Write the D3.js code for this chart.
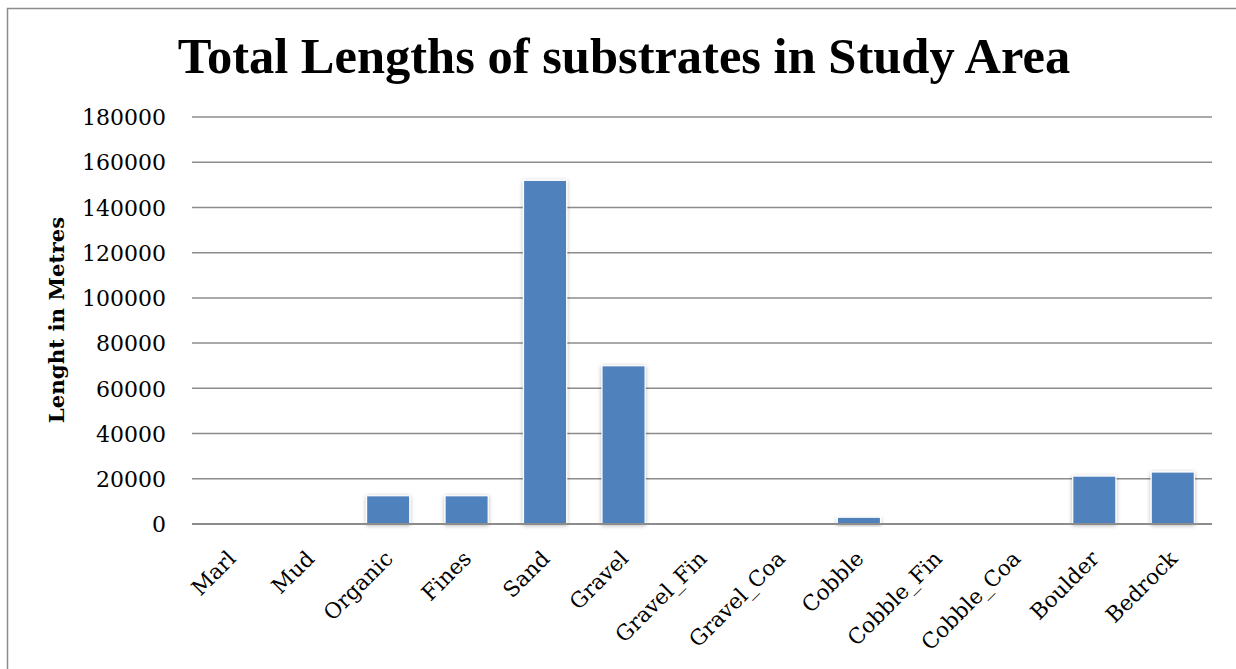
<!DOCTYPE html>
<html>
<head>
<meta charset="utf-8">
<script src="https://cdn.jsdelivr.net/npm/d3@7"></script>
<style>
  html, body { margin: 0; padding: 0; background: #fff; }
  svg { display: block; }
  text { font-family: "DejaVu Serif", "Liberation Serif", serif; fill: #000; }
</style>
</head>
<body>
<svg id="chart" width="1236" height="669"></svg>
<script>
const categories = ["Marl", "Mud", "Organic", "Fines", "Sand", "Gravel", "Gravel_Fin", "Gravel_Coa", "Cobble", "Cobble_Fin", "Cobble_Coa", "Boulder", "Bedrock"];
const values = [0, 0, 12500, 12500, 152000, 70000, 300, 0, 3000, 0, 0, 21200, 23000];
const yTicks = [0, 20000, 40000, 60000, 80000, 100000, 120000, 140000, 160000, 180000];
const titleText = "Total Lengths of substrates in Study Area";
const yTitle = "Lenght in Metres";

const svg = d3.select("#chart");
const W = 1236, H = 669;
const margin = { left: 192, right: 24, top: 117, bottom: 145 };
const plotW = W - margin.left - margin.right;
const labelFont = '"DejaVu Serif", "Liberation Serif", serif';

// outer chart border
svg.append("rect").attr("x", 7.5).attr("y", 8.5).attr("width", 1260).attr("height", 700)
  .attr("fill", "#fff").attr("stroke", "#8c8c8c").attr("stroke-width", 1.5);

const defs = svg.append("defs");
const f = defs.append("filter").attr("id", "shadow").attr("x", "-30%").attr("y", "-30%").attr("width", "160%").attr("height", "160%");
f.append("feGaussianBlur").attr("in", "SourceAlpha").attr("stdDeviation", 2).attr("result", "blur");
f.append("feOffset").attr("in", "blur").attr("dx", 0).attr("dy", 1).attr("result", "off");
f.append("feComponentTransfer").attr("in", "off").attr("result", "sh")
  .append("feFuncA").attr("type", "linear").attr("slope", 0.3);
const m = f.append("feMerge");
m.append("feMergeNode").attr("in", "sh");
m.append("feMergeNode").attr("in", "SourceGraphic");

const x = d3.scaleBand().domain(categories).range([margin.left, margin.left + plotW]).paddingInner(0.45).paddingOuter(0.225);
const y = d3.scaleLinear().domain([0, 180000]).range([524, 117]);

// gridlines
svg.append("g").selectAll("line").data(yTicks.filter(d => d > 0)).join("line")
  .attr("x1", margin.left).attr("x2", margin.left + plotW)
  .attr("y1", d => y(d)).attr("y2", d => y(d))
  .attr("stroke", "#8c8c8c").attr("stroke-width", 1.5);

// y axis labels
const yAxis = d3.axisLeft(y).tickValues(yTicks).tickSize(0).tickPadding(0).tickFormat(d3.format("d"));
const ya = svg.append("g").attr("transform", `translate(${margin.left - 26},0)`).call(yAxis);
ya.select(".domain").remove();
ya.selectAll("text").style("font-family", labelFont).style("font-size", "22px").attr("dy", "0.35em");

// bars
svg.append("g").selectAll("rect").data(categories).join("rect")
  .attr("x", d => x(d))
  .attr("width", x.bandwidth())
  .attr("y", (d, i) => y(values[i]))
  .attr("height", (d, i) => y(0) - y(values[i]))
  .attr("fill", "#4F81BD")
  .attr("stroke", "#ffffff").attr("stroke-width", 1.2)
  .attr("filter", "url(#shadow)");

// baseline
svg.append("line").attr("x1", margin.left).attr("x2", margin.left + plotW)
  .attr("y1", y(0)).attr("y2", y(0)).attr("stroke", "#8c8c8c").attr("stroke-width", 2);

// x labels
const xa = svg.append("g").attr("transform", `translate(0,${y(0)})`)
  .call(d3.axisBottom(x).tickSize(0).tickPadding(0));
xa.select(".domain").remove();
xa.selectAll("text")
  .style("font-family", labelFont).style("font-size", "21.5px")
  .attr("text-anchor", "end")
  .attr("dy", "0")
  .attr("transform", "translate(6,36) rotate(-45)")
  .attr("y", 0).attr("x", 0);

// y title
const yt = svg.append("text").attr("transform", "translate(64,320) rotate(-90)")
  .attr("text-anchor", "middle").style("font-family", labelFont)
  .style("font-weight", "bold").style("font-size", "20px").text(yTitle);
const ytl = yt.node().getComputedTextLength();
yt.style("font-size", (20 * 206 / ytl).toFixed(1) + "px");

// title
const t = svg.append("text").attr("x", 624).attr("y", 73).attr("text-anchor", "middle")
  .style("font-family", '"Liberation Serif", serif')
  .style("font-weight", "bold").style("font-size", "48px").text(titleText);
const tl = t.node().getComputedTextLength();
t.style("font-size", (48 * 892 / tl).toFixed(1) + "px");
</script>
</body>
</html>
